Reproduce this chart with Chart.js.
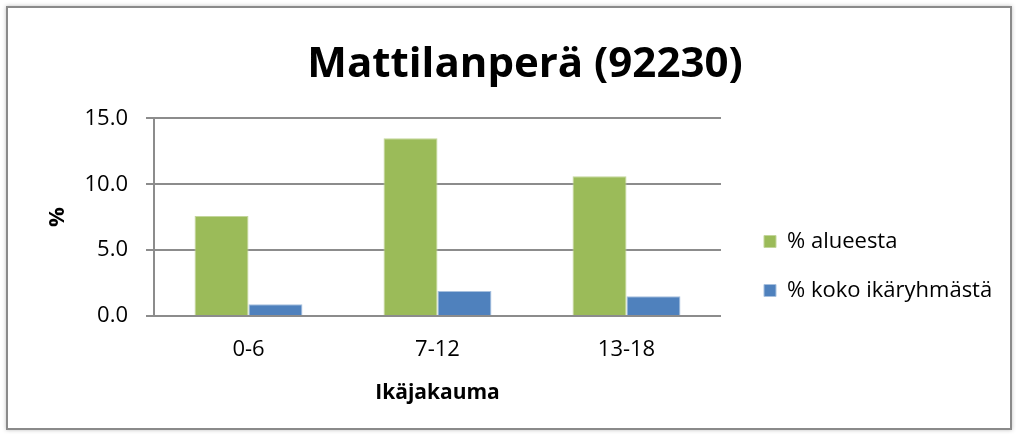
<!DOCTYPE html>
<html>
<head>
<meta charset="utf-8">
<script src="https://cdn.jsdelivr.net/npm/chart.js@4/dist/chart.umd.min.js"></script>
<style>
  html, body { margin: 0; padding: 0; background: #fff; overflow: hidden; }
  #wrap { position: relative; width: 1016px; height: 434px; }
  #kehys {
    position: absolute; left: 6px; top: 6px; width: 1002px; height: 420px;
    border: 2px solid #8a8a8a; box-shadow: 0 0 4px rgba(0,0,0,0.25);
    pointer-events: none;
  }
</style>
</head>
<body>
<div id="wrap">
  <canvas id="kaavio"></canvas>
  <div id="kehys"></div>
</div>
<script>
/* data */
const ikaryhmat = ['0-6', '7-12', '13-18'];
const alueesta = [7.6, 13.5, 10.6];
const kokoIkaryhmasta = [0.9, 1.9, 1.5];
const ySteps = [0, 5, 10, 15];

Chart.defaults.font.family = "'Open Sans', sans-serif";
Chart.defaults.color = '#000';

const harmaa = '#8c8c8c';

// legenda oikealle: leveys ja korkeus kuten Excelissä
const legendaSijainti = {
  id: 'legendaSijainti',
  afterInit(chart) {
    const legend = chart.legend;
    const fit = legend.fit.bind(legend);
    legend.fit = function () {
      fit();
      this.width = 289;
    };
  },
  afterLayout(chart) {
    chart.legend.top += 51;
    chart.legend.bottom += 51;
  }
};

const ctx = document.getElementById('kaavio').getContext('2d');
const kaavio = new Chart(ctx, {
  type: 'bar',
  data: {
    labels: ikaryhmat,
    datasets: [
      {
        label: '% alueesta',
        data: alueesta,
        backgroundColor: '#9bbb59',
        borderColor: '#c3d69b',
        borderWidth: 1,
        yAxisID: 'y'
      },
      {
        label: '% koko ikäryhmästä',
        data: kokoIkaryhmasta,
        backgroundColor: '#4f81bd',
        borderColor: '#a7c0de',
        borderWidth: 1,
        yAxisID: 'y'
      }
    ]
  },
  plugins: [legendaSijainti],
  options: {
    responsive: true,
    maintainAspectRatio: false,
    animation: false,
    categoryPercentage: 0.571,
    barPercentage: 1.0,
    layout: {
      padding: { left: 24, right: -10, top: 6, bottom: 10 }
    },
    scales: {
      x: {
        grid: { display: false, drawTicks: false },
        border: { display: false },
        ticks: { font: { size: 22 }, padding: 21 },
        title: {
          display: true,
          text: 'Ikäjakauma',
          font: { size: 21, weight: 'bold' },
          padding: { top: 0, bottom: 18 }
        },
        afterFit: (scale) => { scale.height = 108; }
      },
      y: {
        min: ySteps[0],
        max: ySteps[ySteps.length - 1],
        ticks: {
          stepSize: ySteps[1] - ySteps[0],
          font: { size: 22 },
          padding: 18,
          callback: (v) => v.toFixed(1)
        },
        grid: { color: harmaa, lineWidth: 2, tickLength: 8, tickColor: harmaa },
        border: { display: true, color: harmaa, width: 2 },
        title: {
          display: true,
          text: '%',
          font: { size: 22, weight: 'bold' },
          padding: { top: 21, bottom: 0 }
        },
        afterFit: (scale) => { scale.width = 130; }
      },
      y2: {
        position: 'right',
        display: true,
        grid: { display: false },
        border: { display: false },
        ticks: { display: false },
        afterFit: (scale) => { scale.width = 16; }
      }
    },
    plugins: {
      title: {
        display: true,
        text: 'Mattilanperä (92230)',
        font: { size: 42, weight: 'bold' },
        color: '#000',
        padding: { top: 34, bottom: 28 }
      },
      legend: {
        position: 'right',
        labels: {
          boxWidth: 12,
          boxHeight: 12,
          padding: 27,
          font: { size: 22 }
        }
      },
      tooltip: { enabled: false }
    }
  }
});
</script>
</body>
</html>
